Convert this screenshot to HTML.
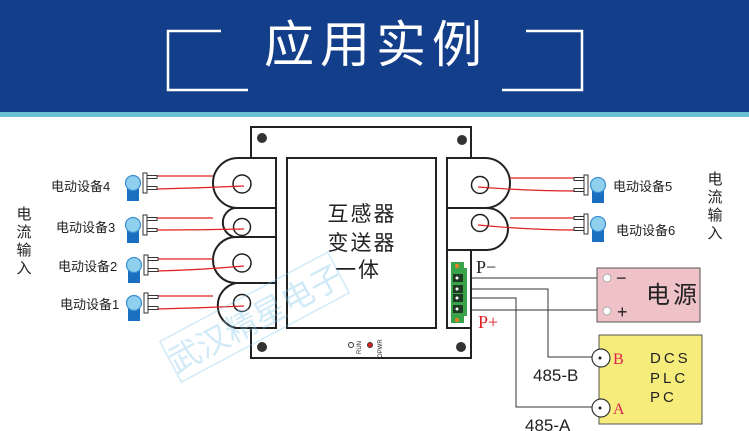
<!DOCTYPE html>
<html><head><meta charset="utf-8"><style>
html,body{margin:0;padding:0;background:#fff}
svg{display:block}
text{font-family:"Liberation Sans","Noto Sans CJK SC",sans-serif}
.s{font-family:"Liberation Serif","Noto Serif CJK SC",serif}
</style></head><body>
<svg width="749" height="431" viewBox="0 0 749 431" xmlns="http://www.w3.org/2000/svg">
<defs>
<g id="plugL">
 <rect x="-6" y="2" width="12" height="16" fill="#1a6fc0"/>
 <circle cx="0" cy="0" r="7.5" fill="#8fd0ee" stroke="#3b8fd0" stroke-width="1.2"/>
 <rect x="10" y="-10" width="4" height="20" fill="#fff" stroke="#333" stroke-width="1"/>
 <rect x="14" y="-7.5" width="10" height="3" fill="#fff" stroke="#333" stroke-width="1"/>
 <rect x="14" y="3.5" width="10" height="3" fill="#fff" stroke="#333" stroke-width="1"/>
</g>
<g id="plugR">
 <rect x="-6" y="2" width="12" height="16" fill="#1a6fc0"/>
 <circle cx="0" cy="0" r="7.5" fill="#8fd0ee" stroke="#3b8fd0" stroke-width="1.2"/>
 <rect x="-14" y="-10" width="4" height="20" fill="#fff" stroke="#333" stroke-width="1"/>
 <rect x="-24" y="-7.5" width="10" height="3" fill="#fff" stroke="#333" stroke-width="1"/>
 <rect x="-24" y="3.5" width="10" height="3" fill="#fff" stroke="#333" stroke-width="1"/>
</g>
</defs>
<!-- header -->
<rect x="0" y="0" width="749" height="112" fill="#133f8a"/>
<rect x="0" y="112" width="749" height="5" fill="#6bbfd3"/>
<polyline points="221,31 168,31 168,90 248,90" fill="none" stroke="#fff" stroke-width="2.5"/>
<polyline points="526,31 582,31 582,90 502,90" fill="none" stroke="#fff" stroke-width="2.5"/>
<text x="376" y="62" font-size="50" fill="#fff" text-anchor="middle" letter-spacing="6">应用实例</text>

<!-- board -->
<rect x="251" y="127" width="220" height="231" fill="#fff" stroke="#222" stroke-width="2"/>
<circle cx="262" cy="138" r="5" fill="#333"/><circle cx="462" cy="140" r="5" fill="#333"/>
<circle cx="262" cy="347" r="5" fill="#333"/><circle cx="461" cy="347" r="5" fill="#333"/>
<rect x="287" y="158" width="149" height="170" fill="#fff" stroke="#222" stroke-width="2"/>
<text x="362" y="221" font-size="21" text-anchor="middle" fill="#222" letter-spacing="2">互感器</text>
<text x="362" y="250" font-size="21" text-anchor="middle" fill="#222" letter-spacing="2">变送器</text>
<text x="358" y="277" font-size="21" text-anchor="middle" fill="#222" letter-spacing="2">一体</text>
<circle cx="351" cy="345" r="2.5" fill="#fff" stroke="#333"/>
<circle cx="370" cy="345" r="2.5" fill="#e02020" stroke="#333"/>
<text x="0" y="0" font-size="6" fill="#222" transform="translate(361,354) rotate(-90)">RUN</text>
<text x="0" y="0" font-size="6" fill="#222" transform="translate(382,358) rotate(-90)">OPWR</text>

<!-- CTs -->
<g fill="#fff" stroke="#222" stroke-width="2">
<path d="M276,158 H238 A25,25 0 0 0 238,208 H276 Z"/>
<path d="M276,208 H234 A15,15 0 0 0 234,237 H276 Z"/>
<path d="M276,237 H236 A23,23 0 0 0 236,283 H276 Z"/>
<path d="M276,283 H236 A23,23 0 0 0 236,328 H276 Z"/>
<path d="M447,158 H485 A25,25 0 0 1 485,208 H447 Z"/>
<path d="M447,208 H487 A21,21 0 0 1 487,250 H447 Z"/>
<rect x="447" y="250" width="24" height="78"/>
</g>
<g fill="#fff" stroke="#222" stroke-width="1.5">
<circle cx="242" cy="184" r="9"/><circle cx="242" cy="227" r="8.5"/>
<circle cx="242" cy="263" r="9"/><circle cx="242" cy="303" r="8.5"/>
<circle cx="480" cy="185" r="8.5"/><circle cx="480" cy="223" r="8.5"/>
</g>
<g stroke="#e02020" stroke-width="1.2" fill="none">
<path d="M157,176 H213"/><path d="M157,189 Q200,188 244,186"/>
<path d="M157,218 H213"/><path d="M157,230 Q200,230 244,229"/>
<path d="M157,259 H213"/><path d="M157,271 Q200,270 244,266"/>
<path d="M157,296 H213"/><path d="M157,309 Q200,308 244,306"/>
<path d="M510,178 H576"/><path d="M478,187 Q530,191 576,191"/>
<path d="M510,218 H576"/><path d="M478,225 Q530,230 576,230"/>
</g>
<use href="#plugL" x="133" y="183"/>
<use href="#plugL" x="133" y="225"/>
<use href="#plugL" x="134" y="265"/>
<use href="#plugL" x="134" y="303"/>
<use href="#plugR" x="598" y="185"/>
<use href="#plugR" x="598" y="224"/>
<g font-size="13" fill="#222">
<text x="51" y="191">电动设备4</text>
<text x="56" y="232">电动设备3</text>
<text x="58" y="271">电动设备2</text>
<text x="60" y="309">电动设备1</text>
<text x="613" y="191">电动设备5</text>
<text x="616" y="235">电动设备6</text>
</g>
<g font-size="15" fill="#222" text-anchor="middle">
<text x="24" y="219">电</text><text x="24" y="237">流</text><text x="24" y="255">输</text><text x="24" y="273">入</text>
<text x="715" y="184">电</text><text x="715" y="202">流</text><text x="715" y="220">输</text><text x="715" y="238">入</text>
</g>

<!-- terminal -->
<rect x="451" y="262" width="13" height="61" fill="#3aa24a"/>
<rect x="464" y="268" width="3" height="48" fill="#3aa24a"/>
<circle cx="457" cy="266" r="2" fill="#f08020"/><circle cx="457" cy="320" r="2" fill="#f08020"/>
<g fill="#1e3a22"><rect x="453" y="274" width="10" height="8"/><rect x="453" y="285" width="10" height="8"/><rect x="453" y="294" width="10" height="8"/><rect x="453" y="305" width="10" height="8"/></g>
<g fill="#fff"><circle cx="457" cy="278" r="1.5"/><circle cx="457" cy="289" r="1.5"/><circle cx="457" cy="298" r="1.5"/><circle cx="457" cy="309" r="1.5"/></g>

<g stroke="#333" stroke-width="1" fill="none">
<path d="M471,278 H597"/>
<path d="M471,289 H548 V357 H600"/>
<path d="M471,298 H516 V407 H600"/>
<path d="M471,310 H597"/>
</g>
<text x="476" y="273" font-size="18" class="s" fill="#222">P−</text>
<text x="478" y="328" font-size="18" class="s" fill="#e02020">P+</text>

<rect x="597" y="268" width="103" height="54" fill="#efc2c8" stroke="#555" stroke-width="1"/>
<circle cx="607" cy="278" r="4" fill="#fff" stroke="#aaa"/>
<circle cx="607" cy="311" r="4" fill="#fff" stroke="#aaa"/>
<text x="616" y="284" font-size="18" fill="#222">−</text>
<text x="617" y="318" font-size="18" fill="#222">+</text>
<text x="646" y="303" font-size="24" fill="#222" letter-spacing="3">电源</text>

<rect x="599" y="335" width="103" height="89" fill="#f5ec7c" stroke="#555" stroke-width="1"/>
<circle cx="601" cy="358" r="9" fill="#fff" stroke="#333" stroke-width="1.2"/>
<circle cx="601" cy="408" r="9" fill="#fff" stroke="#333" stroke-width="1.2"/>
<circle cx="600" cy="358" r="1.5" fill="#222"/><circle cx="600" cy="408" r="1.5" fill="#222"/>
<text x="613" y="364" font-size="16" class="s" fill="#e02050">B</text>
<text x="613" y="414" font-size="16" class="s" fill="#e02050">A</text>
<g font-size="15" class="s" fill="#222" letter-spacing="3">
<text x="650" y="363">DCS</text><text x="650" y="383">PLC</text><text x="650" y="402">PC</text>
</g>
<text x="533" y="381" font-size="17" fill="#222">485-B</text>
<text x="525" y="431" font-size="17" fill="#222">485-A</text>

<g transform="translate(255,318) rotate(-28)" opacity="0.35">
<rect x="-95" y="-24" width="190" height="46" fill="none" stroke="#7ec4ea" stroke-width="1.5"/>
<text x="0" y="12" font-size="32" text-anchor="middle" fill="#7ec4ea">武汉精星电子</text>
</g>
</svg>
</body></html>
